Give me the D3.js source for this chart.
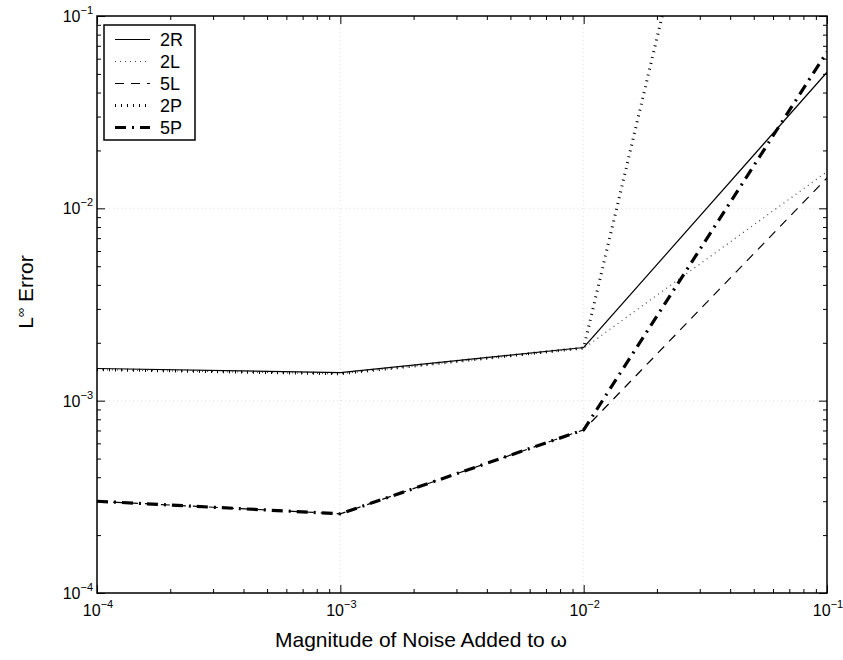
<!DOCTYPE html>
<html>
<head>
<meta charset="utf-8">
<script src="https://cdn.jsdelivr.net/npm/d3@7"></script>
<style>
  body { margin: 0; background: #fff; }
  text { font-family: "Liberation Sans", Arial, Helvetica, sans-serif; fill: #000; }
</style>
</head>
<body>
<script>
// sizes / plot box
const width = 843;
const height = 660;
const plotLeft = 97, plotRight = 827, plotTop = 16, plotBottom = 593;

// data
const noise = [1e-4, 1e-3, 1e-2, 1e-1];
const err2R = [1.47e-3, 1.40e-3, 1.89e-3, 5.1e-2];
const err2L = [1.45e-3, 1.38e-3, 1.87e-3, 1.55e-2];
const err5L = [3.0e-4, 2.58e-4, 7.05e-4, 1.44e-2];
const err2P = [1.45e-3, 1.38e-3, 1.88e-3, 420];
const err5P = [3.0e-4, 2.58e-4, 7.05e-4, 6.5e-2];
const seriesNames = ["2R", "2L", "5L", "2P", "5P"];

// tick labels
const decadeTicks = [1e-4, 1e-3, 1e-2, 1e-1];
const tickExps = ["\u22124", "\u22123", "\u22122", "\u22121"];

// line styles per series
const styles = {
    "2R": {width: 1.2, dash: null, color: "#000"},
    "2L": {width: 1.2, dash: "1,4", color: "#444"},
    "5L": {width: 1.2, dash: "9,7", color: "#000"},
    "2P": {width: 3, dash: "1,5", color: "#000"},
    "5P": {width: 3.2, dash: "11,6,2,6", color: "#000"}
};
const values = {"2R": err2R, "2L": err2L, "5L": err5L, "2P": err2P, "5P": err5P};

//Scales
const xScale = d3.scaleLog().domain([1e-4, 1e-1]).range([plotLeft, plotRight]);
const yScale = d3.scaleLog().domain([1e-4, 1e-1]).range([plotBottom, plotTop]);

//SVG
const svg = d3.select("body")
    .append("svg")
    .attr("width", width)
    .attr("height", height);

svg.append("defs").append("clipPath")
    .attr("id", "plotclip")
    .append("rect")
    .attr("x", plotLeft).attr("y", plotTop)
    .attr("width", plotRight - plotLeft).attr("height", plotBottom - plotTop);

//faint grid at decades
const grid = svg.append("g").attr("stroke", "#e2e2e2").attr("stroke-dasharray", "1,3");
grid.selectAll(".gx")
    .data(decadeTicks.slice(1, -1))
    .enter().append("line")
    .attr("x1", d => xScale(d)).attr("x2", d => xScale(d))
    .attr("y1", plotTop).attr("y2", plotBottom);
grid.selectAll(".gy")
    .data(decadeTicks.slice(1, -1))
    .enter().append("line")
    .attr("y1", d => yScale(d)).attr("y2", d => yScale(d))
    .attr("x1", plotLeft).attr("x2", plotRight);

//Lines
const line = d3.line()
    .x((d, i) => xScale(noise[i]))
    .y(d => yScale(d));

const plot = svg.append("g").attr("clip-path", "url(#plotclip)");
seriesNames.forEach(name => {
    const s = styles[name];
    plot.append("path")
        .datum(values[name])
        .attr("d", line)
        .attr("fill", "none")
        .attr("stroke", s.color)
        .attr("stroke-width", s.width)
        .attr("stroke-dasharray", s.dash)
        .attr("stroke-linejoin", "miter");
});

//Axes: inward ticks on all four sides
const minor = xScale.ticks().filter(t => !decadeTicks.some(d => Math.abs(d - t) / d < 1e-6));
const minorY = yScale.ticks().filter(t => !decadeTicks.some(d => Math.abs(d - t) / d < 1e-6));

function ticks(axisFn, scale, vals, size, transform) {
    svg.append("g")
        .attr("transform", transform)
        .call(axisFn(scale).tickValues(vals).tickSizeInner(size).tickSizeOuter(0).tickFormat(""))
        .call(g => g.select(".domain").remove())
        .call(g => g.selectAll("line").attr("stroke", "#000").attr("stroke-width", 1));
}
ticks(d3.axisBottom, xScale, decadeTicks, -8, `translate(0,${plotBottom})`);
ticks(d3.axisBottom, xScale, minor, -4, `translate(0,${plotBottom})`);
ticks(d3.axisTop, xScale, decadeTicks, -8, `translate(0,${plotTop})`);
ticks(d3.axisTop, xScale, minor, -4, `translate(0,${plotTop})`);
ticks(d3.axisLeft, yScale, decadeTicks, -8, `translate(${plotLeft},0)`);
ticks(d3.axisLeft, yScale, minorY, -4, `translate(${plotLeft},0)`);
ticks(d3.axisRight, yScale, decadeTicks, -8, `translate(${plotRight},0)`);
ticks(d3.axisRight, yScale, minorY, -4, `translate(${plotRight},0)`);

//frame
svg.append("rect")
    .attr("x", plotLeft).attr("y", plotTop)
    .attr("width", plotRight - plotLeft).attr("height", plotBottom - plotTop)
    .attr("fill", "none")
    .attr("stroke", "#000")
    .attr("stroke-width", 1.5);

//tick labels
decadeTicks.forEach((d, i) => {
    const tx = svg.append("text")
        .attr("x", xScale(d) + 1)
        .attr("y", plotBottom + 23)
        .attr("text-anchor", "middle")
        .attr("font-size", 16);
    tx.append("tspan").text("10");
    tx.append("tspan").attr("dy", -8).attr("font-size", 11).text(tickExps[i]);

    const ty = svg.append("text")
        .attr("x", plotLeft - 4)
        .attr("y", yScale(d) + 6)
        .attr("text-anchor", "end")
        .attr("font-size", 16);
    ty.append("tspan").text("10");
    ty.append("tspan").attr("dy", -8).attr("font-size", 11).text(tickExps[i]);
});

//axis labels
const xl = svg.append("text")
    .attr("x", 275)
    .attr("y", 647)
    .attr("font-size", 21);
xl.append("tspan").text("Magnitude of Noise Added to ");
xl.append("tspan").text("\u03c9");

const yl = svg.append("text")
    .attr("transform", "translate(33,292) rotate(-90)")
    .attr("text-anchor", "middle")
    .attr("font-size", 21);
yl.append("tspan").text("L");
yl.append("tspan").attr("dy", -8).attr("font-size", 13).text("\u221e");
yl.append("tspan").attr("dy", 8).text(" Error");

//Legend
const leg = svg.append("g");
leg.append("rect")
    .attr("x", 104).attr("y", 25)
    .attr("width", 91).attr("height", 115)
    .attr("fill", "#fff")
    .attr("stroke", "#000")
    .attr("stroke-width", 1.5);
seriesNames.forEach((name, i) => {
    const s = styles[name];
    const yy = 39.5 + i * 22;
    leg.append("line")
        .attr("x1", 115).attr("x2", 150)
        .attr("y1", yy).attr("y2", yy)
        .attr("stroke", s.color)
        .attr("stroke-width", s.width)
        .attr("stroke-dasharray", s.dash);
    leg.append("text")
        .attr("x", 160).attr("y", yy + 6.5)
        .attr("font-size", 18)
        .text(name);
});
</script>
</body>
</html>
